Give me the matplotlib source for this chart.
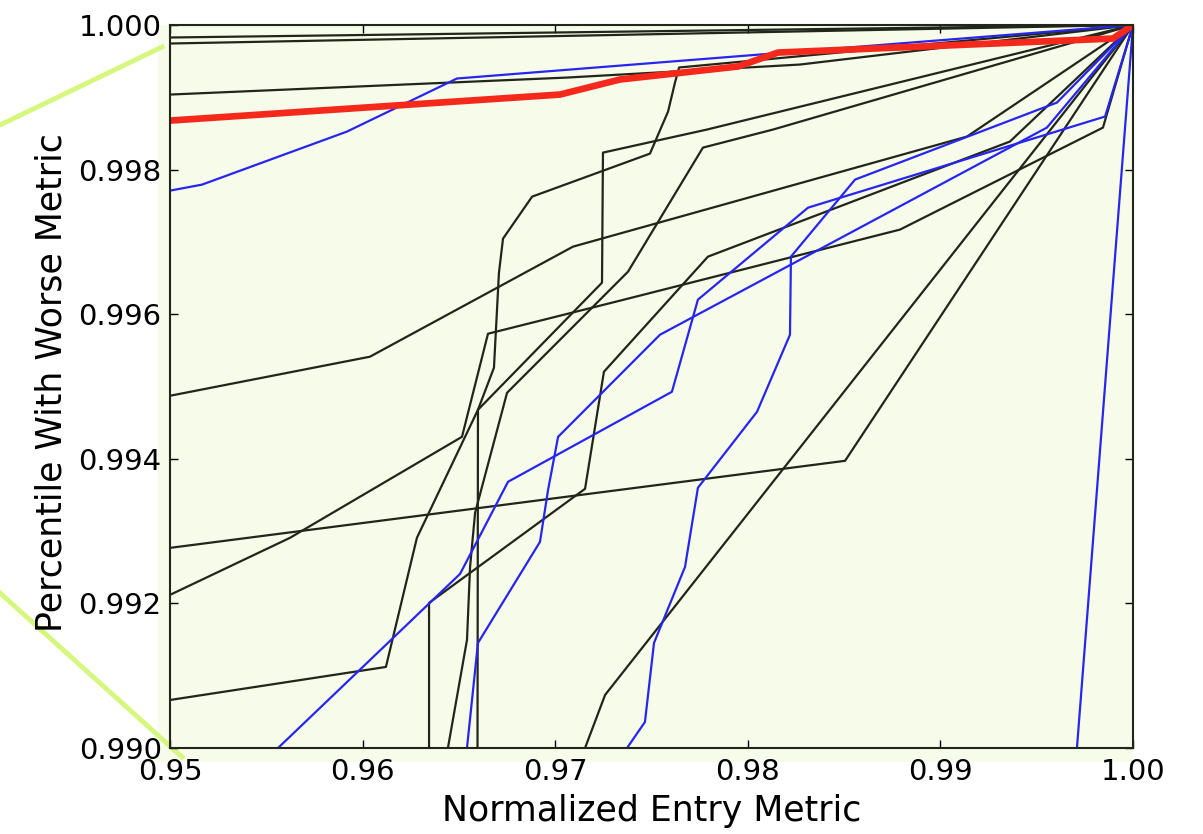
import matplotlib
matplotlib.use("Agg")
import matplotlib.pyplot as plt
from matplotlib.patches import Rectangle
from matplotlib.lines import Line2D

# black curves (normalized entry metric, percentile with worse metric)
black_x = [
    [0.95, 1.0],
    [0.95, 1.0],
    [0.95, 0.97061, 0.98271, 1.0],
    [0.95, 0.96038, 0.97092, 0.99138, 1.0],
    [0.95, 0.98505, 1.0],
    [0.95, 0.95623, 0.96516, 0.96651, 0.97336, 0.98790, 0.99844, 1.0],
    [0.95, 0.96121, 0.96282, 0.96599, 0.97243, 0.97248, 0.97788, 1.0],
    [0.96345, 0.96345, 0.97155, 0.97253, 0.97793, 0.99361, 1.0],
    [0.96443, 0.96542, 0.96558, 0.96584, 0.96750, 0.97378, 0.97767, 0.98131, 1.0],
    [0.96594, 0.96599, 0.96682, 0.96708, 0.96729, 0.96880, 0.97492, 0.97586, 0.97622, 0.97643, 1.0],
    [0.97155, 0.97259, 1.0],
]
black_y = [
    [0.999827, 1.0],
    [0.999744, 1.0],
    [0.999038, 0.999273, 0.999453, 1.0],
    [0.994872, 0.995412, 0.996934, 0.998457, 1.0],
    [0.992768, 0.993972, 1.0],
    [0.992118, 0.992907, 0.994304, 0.995730, 0.996187, 0.997170, 0.998581, 1.0],
    [0.990664, 0.991121, 0.992907, 0.994678, 0.996436, 0.998235, 0.998554, 1.0],
    [0.9850, 0.992007, 0.993585, 0.995204, 0.996796, 0.998388, 1.0],
    [0.990, 0.991495, 0.992505, 0.993253, 0.994913, 0.996588, 0.998304, 0.998554, 1.0],
    [0.9850, 0.994678, 0.995260, 0.996574, 0.997045, 0.997626, 0.998221, 0.998803, 0.999204, 0.999412, 1.0],
    [0.990, 0.990734, 1.0],
]

# blue curves
blue_x = [
    [0.95, 0.95166, 0.95919, 0.96490, 1.0],
    [0.95561, 0.96506, 0.96755, 0.97606, 0.97741, 0.98313, 0.99855, 1.0],
    [0.97373, 0.97466, 0.97513, 0.97674, 0.97741, 0.98048, 0.98219, 0.98224, 0.98557, 0.99605, 1.0],
    [0.96542, 0.96599, 0.96921, 0.96963, 0.97015, 0.97544, 0.99553, 1.0],
    [0.99709, 1.0],
]
blue_y = [
    [0.997709, 0.997792, 0.998526, 0.999260, 1.0],
    [0.990, 0.992408, 0.993682, 0.994927, 0.996201, 0.997474, 0.998734, 1.0],
    [0.990, 0.990360, 0.991453, 0.992505, 0.993599, 0.994651, 0.995716, 0.996796, 0.997862, 0.998927, 1.0],
    [0.990, 0.991453, 0.992851, 0.993571, 0.994304, 0.995716, 0.998581, 1.0],
    [0.990, 1.0],
]

# highlighted red curve
red_x = [0.95, 0.97025, 0.97336, 0.97949, 0.98157, 0.99896, 1.0]
red_y = [0.998678, 0.999038, 0.999246, 0.999426, 0.999619, 0.999813, 1.0]

x_ticks = [0.95, 0.96, 0.97, 0.98, 0.99, 1.00]
y_ticks = [0.990, 0.992, 0.994, 0.996, 0.998, 1.000]

bg = "#f7fbe9"
black = "#22261a"
blue = "#2626ee"
red = "#f5281c"
green = "#d6f77e"

fig = plt.figure(figsize=(12.03, 8.34), dpi=100)
fig.patch.set_facecolor("white")

# light panel behind the axes (zoomed inset look)
panel = Rectangle((158 / 1203, 1 - 762 / 834), (1133 - 158) / 1203, (762 - 25) / 834,
                  transform=fig.transFigure, facecolor=bg, edgecolor="none", zorder=-2)
fig.patches.append(panel)

# connector lines to the parent plot
fig.lines.append(Line2D([0, 162 / 1203], [1 - 125 / 834, 1 - 47 / 834],
                        transform=fig.transFigure, color=green, lw=3.5, zorder=-1))
fig.lines.append(Line2D([0, 182 / 1203], [1 - 593 / 834, 1 - 757 / 834],
                        transform=fig.transFigure, color=green, lw=3.5, zorder=-1))

ax = fig.add_axes([170 / 1203, 1 - 748 / 834, 963 / 1203, 723 / 834])
ax.set_facecolor(bg)

for xs, ys in zip(black_x, black_y):
    ax.plot(xs, ys, color=black, lw=1.6)
for xs, ys in zip(blue_x, blue_y):
    ax.plot(xs, ys, color=blue, lw=1.6)
ax.plot(red_x, red_y, color=red, lw=4.8)

ax.set_xlim(0.95, 1.0)
ax.set_ylim(0.990, 1.000)
ax.set_xticks(x_ticks)
ax.set_yticks(y_ticks)
ax.set_xticklabels(["%.2f" % v for v in x_ticks])
ax.set_yticklabels(["%.3f" % v for v in y_ticks])
ax.tick_params(direction="in", length=6, width=1, top=True, right=True,
               labelsize=21, colors="black")
ax.tick_params(axis="x", pad=7)
ax.tick_params(axis="y", pad=6)
for s in ax.spines.values():
    s.set_linewidth(1.5)
    s.set_color(black)

ax.set_xlabel("Normalized Entry Metric", fontsize=25)
ax.set_ylabel("Percentile With Worse Metric", fontsize=25)
ax.xaxis.set_label_coords(0.5, -0.064)
ax.yaxis.set_label_coords(-0.105, 0.505)

fig.savefig("out.png", dpi=100)
